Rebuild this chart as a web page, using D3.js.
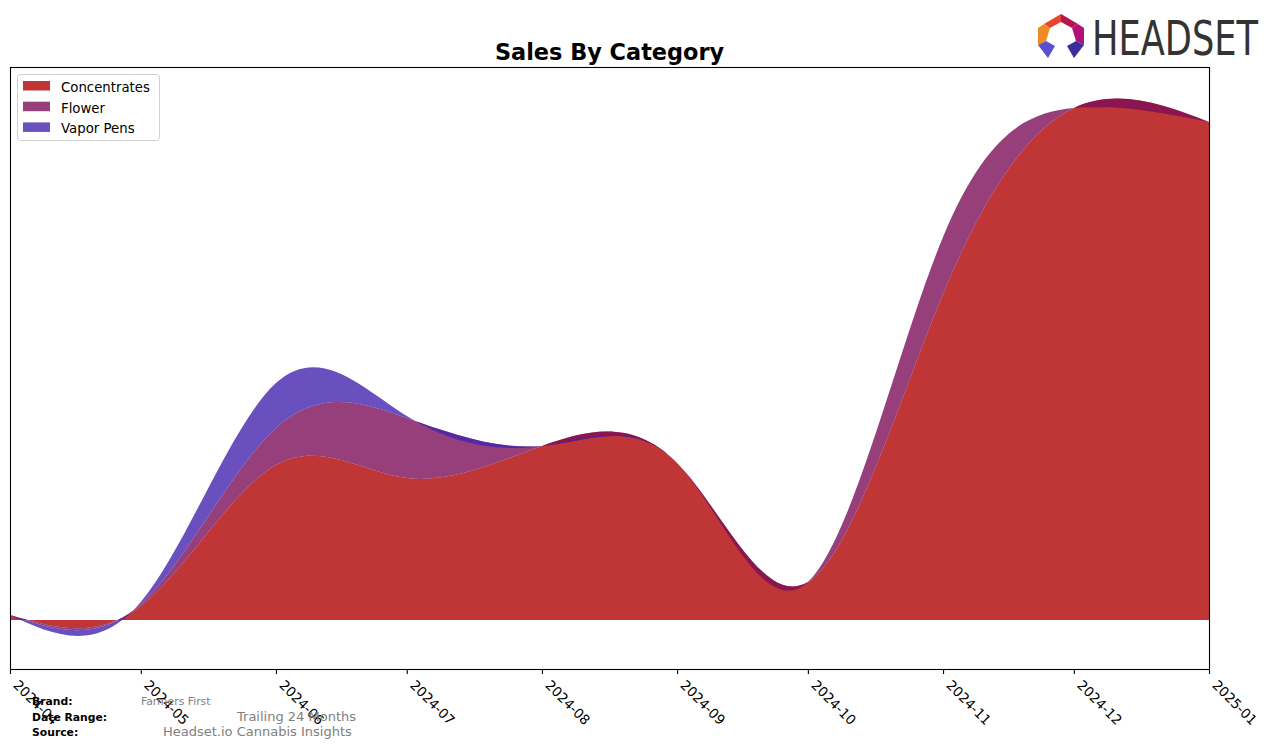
<!DOCTYPE html>
<html><head><meta charset="utf-8">
<script src="https://cdn.jsdelivr.net/npm/d3@7"></script>
<style>
body{margin:0;background:#fff}
svg{display:block;font-family:"DejaVu Sans",sans-serif}
</style>
</head><body>
<svg id="chart" width="1276" height="748"></svg>
<script>
// ---- data (monthly sales, $) ----
const months = ["2024-04-01","2024-05-01","2024-06-01","2024-07-01","2024-08-01","2024-09-01","2024-10-01","2024-11-01","2024-12-01","2025-01-01"];
const tickLabels = ["2024-04","2024-05","2024-06","2024-07","2024-08","2024-09","2024-10","2024-11","2024-12","2025-01"];
const categories = ["Concentrates","Flower","Vapor Pens"];
const concentrates = [500, 1400, 15500, 14200, 17400, 15700, 3800, 32600, 51200, 49800];
const flower       = [0, 200, 3700, 6000, 0, 0, 0, 5700, 0, 0];
const vaporPens    = [0, 200, 4500, 200, 0, 0, 0, 0, 0, 0];
const colors = ["rgb(176,2,2)", "rgb(124,15,89)", "rgb(69,35,175)"];
const footerLabels = ["Brand:", "Date Range:", "Source:"];
const footerValues = ["Farmers First", "Trailing 24 Months", "Headset.io Cannabis Insights"];

const svg = d3.select("#chart");
const plot = {left: 10, right: 1209, top: 67, bottom: 669};
const parse = d3.utcParse("%Y-%m-%d");
const dates = months.map(parse);

const rows = dates.map((d, i) => ({date: d, "Concentrates": concentrates[i], "Flower": flower[i], "Vapor Pens": vaporPens[i]}));
const series = d3.stack().keys(categories)(rows);

const x = d3.scaleUtc().domain([dates[0], dates[dates.length - 1]]).range([plot.left, plot.right]);
const y = d3.scaleLinear().domain([-4900, 55300]).range([plot.bottom, plot.top]);

svg.append("defs").append("clipPath").attr("id", "clip")
  .append("rect").attr("x", plot.left).attr("y", plot.top)
  .attr("width", plot.right - plot.left).attr("height", plot.bottom - plot.top);

const area = d3.area()
  .x(d => x(d.data.date))
  .y0(d => y(d[0]))
  .y1(d => y(d[1]))
  .curve(d3.curveNatural);

svg.append("g").attr("clip-path", "url(#clip)")
  .selectAll("path").data(series).join("path")
  .attr("d", area)
  .attr("fill", (d, i) => colors[i])
  .attr("fill-opacity", 0.8);

// frame
svg.append("rect")
  .attr("x", plot.left + 0.5).attr("y", plot.top + 0.5)
  .attr("width", plot.right - plot.left).attr("height", plot.bottom - plot.top)
  .attr("fill", "none").attr("stroke", "#000").attr("stroke-width", 1.1);

// x axis
const ax = svg.append("g").attr("transform", `translate(0,${plot.bottom})`)
  .call(d3.axisBottom(x).tickValues(dates).tickFormat((d, i) => tickLabels[i]).tickSize(5).tickSizeOuter(0));
ax.select(".domain").remove();
ax.selectAll(".tick line").attr("stroke", "#000").attr("stroke-width", 1.1);
ax.selectAll(".tick text")
  .attr("y", null).attr("dy", null).attr("x", null)
  .attr("text-anchor", "start")
  .attr("transform", "translate(2,17) rotate(45)")
  .attr("font-size", "13.5px").attr("font-family", "DejaVu Sans, sans-serif").attr("fill", "#000");

// title
svg.append("text").attr("x", (plot.left + plot.right) / 2).attr("y", 60)
  .attr("text-anchor", "middle").attr("font-weight", "bold").attr("font-size", "22.4px")
  .text("Sales By Category");

// legend
const lg = svg.append("g");
lg.append("rect").attr("x", 17.5).attr("y", 74.5).attr("width", 142).attr("height", 66).attr("rx", 3)
  .attr("fill", "#fff").attr("fill-opacity", 0.8).attr("stroke", "#d0d0d0").attr("stroke-width", 1);
categories.forEach((c, i) => {
  const yy = 81 + i * 20.7;
  lg.append("rect").attr("x", 23).attr("y", yy).attr("width", 27).attr("height", 9.5)
    .attr("fill", colors[i]).attr("fill-opacity", 0.8);
  lg.append("text").attr("x", 61).attr("y", yy + 11).attr("font-size", "13.3px").attr("fill", "#000").text(c);
});

// footer
const fy = [705, 721, 736];
footerLabels.forEach((t, i) => {
  svg.append("text").attr("x", 32).attr("y", fy[i]).attr("font-size", "10.8px").attr("font-weight", "bold").attr("fill", "#000").text(t);
});
const fx = [141, 237, 163];
const fs = ["10.8px", "13px", "13px"];
footerValues.forEach((t, i) => {
  svg.append("text").attr("x", fx[i]).attr("y", fy[i]).attr("font-size", fs[i]).attr("fill", "#808080").text(t);
});

// logo
const logo = svg.append("g");
const polys = [
  {c: "#e8452c", p: [[1044,24],[1061,14],[1061,22],[1050,28]]},
  {c: "#b3174f", p: [[1061,14],[1078,24],[1072,28],[1061,22]]},
  {c: "#f08a24", p: [[1044,24],[1050,28],[1046,41],[1038,45],[1038,28]]},
  {c: "#b0127a", p: [[1078,24],[1084,28],[1084,45],[1076,41],[1072,28]]},
  {c: "#5b4fd0", p: [[1038,45],[1046,41],[1055,46],[1048,58]]},
  {c: "#3a2e9e", p: [[1084,45],[1076,41],[1067,46],[1074,58]]}
];
polys.forEach(o => logo.append("polygon").attr("points", o.p.map(p => p.join(",")).join(" ")).attr("fill", o.c));
logo.append("text").attr("transform", "translate(1092,55) scale(1,1.4)").attr("font-size", "34px")
  .attr("font-family", "'DejaVu Sans Condensed','DejaVu Sans',sans-serif")
  .attr("fill", "#333").attr("textLength", 166).attr("lengthAdjust", "spacingAndGlyphs").text("HEADSET");
</script>
</body></html>
